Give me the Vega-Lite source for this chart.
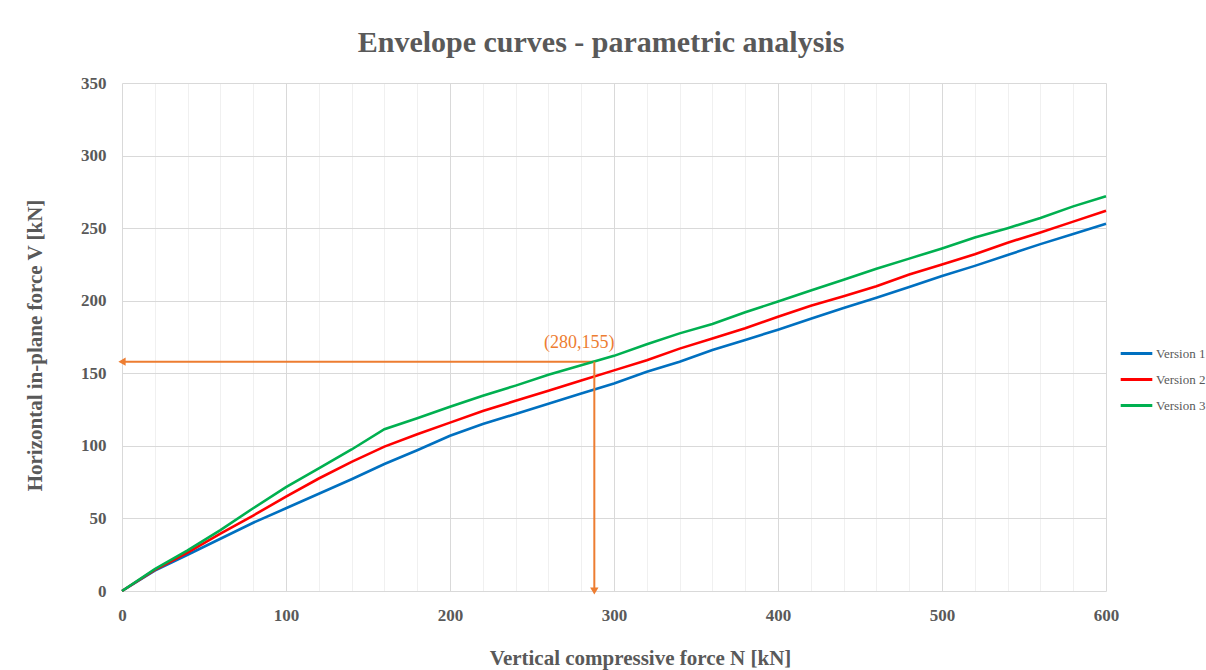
{
  "$schema": "https://vega.github.io/schema/vega-lite/v6.json",
  "width": 984,
  "height": 508,
  "autosize": {"type": "none"},
  "padding": {"left": 122, "top": 83, "right": 100, "bottom": 79},
  "background": "white",
  "title": {
    "text": "Envelope curves - parametric analysis",
    "font": "Liberation Serif",
    "fontSize": 30,
    "fontWeight": "bold",
    "color": "#595959",
    "anchor": "middle",
    "offset": 16,
    "dx": -13
  },
  "config": {"view": {"stroke": null}},
  "datasets": {
    "curves": [
      {"N": 0, "V": 0, "series": "Version 1"},
      {"N": 20, "V": 14, "series": "Version 1"},
      {"N": 40, "V": 25, "series": "Version 1"},
      {"N": 60, "V": 36, "series": "Version 1"},
      {"N": 80, "V": 47, "series": "Version 1"},
      {"N": 100, "V": 57, "series": "Version 1"},
      {"N": 120, "V": 67, "series": "Version 1"},
      {"N": 140, "V": 77, "series": "Version 1"},
      {"N": 160, "V": 87.5, "series": "Version 1"},
      {"N": 180, "V": 97, "series": "Version 1"},
      {"N": 200, "V": 107, "series": "Version 1"},
      {"N": 220, "V": 115, "series": "Version 1"},
      {"N": 240, "V": 122, "series": "Version 1"},
      {"N": 260, "V": 129, "series": "Version 1"},
      {"N": 280, "V": 136, "series": "Version 1"},
      {"N": 300, "V": 143, "series": "Version 1"},
      {"N": 320, "V": 151, "series": "Version 1"},
      {"N": 340, "V": 158, "series": "Version 1"},
      {"N": 360, "V": 166, "series": "Version 1"},
      {"N": 380, "V": 173, "series": "Version 1"},
      {"N": 400, "V": 180, "series": "Version 1"},
      {"N": 420, "V": 187.5, "series": "Version 1"},
      {"N": 440, "V": 195, "series": "Version 1"},
      {"N": 460, "V": 202, "series": "Version 1"},
      {"N": 480, "V": 209.5, "series": "Version 1"},
      {"N": 500, "V": 217, "series": "Version 1"},
      {"N": 520, "V": 224, "series": "Version 1"},
      {"N": 540, "V": 231.5, "series": "Version 1"},
      {"N": 560, "V": 239, "series": "Version 1"},
      {"N": 580, "V": 246, "series": "Version 1"},
      {"N": 600, "V": 253, "series": "Version 1"},
      {"N": 0, "V": 0, "series": "Version 2"},
      {"N": 20, "V": 14.5, "series": "Version 2"},
      {"N": 40, "V": 26.5, "series": "Version 2"},
      {"N": 60, "V": 39.5, "series": "Version 2"},
      {"N": 80, "V": 52, "series": "Version 2"},
      {"N": 100, "V": 65, "series": "Version 2"},
      {"N": 120, "V": 77.5, "series": "Version 2"},
      {"N": 140, "V": 89, "series": "Version 2"},
      {"N": 160, "V": 99.5, "series": "Version 2"},
      {"N": 180, "V": 108, "series": "Version 2"},
      {"N": 200, "V": 116, "series": "Version 2"},
      {"N": 220, "V": 124, "series": "Version 2"},
      {"N": 240, "V": 131, "series": "Version 2"},
      {"N": 260, "V": 138, "series": "Version 2"},
      {"N": 280, "V": 145, "series": "Version 2"},
      {"N": 300, "V": 152, "series": "Version 2"},
      {"N": 320, "V": 159, "series": "Version 2"},
      {"N": 340, "V": 167, "series": "Version 2"},
      {"N": 360, "V": 174, "series": "Version 2"},
      {"N": 380, "V": 181, "series": "Version 2"},
      {"N": 400, "V": 189, "series": "Version 2"},
      {"N": 420, "V": 196.5, "series": "Version 2"},
      {"N": 440, "V": 203, "series": "Version 2"},
      {"N": 460, "V": 210, "series": "Version 2"},
      {"N": 480, "V": 218, "series": "Version 2"},
      {"N": 500, "V": 225, "series": "Version 2"},
      {"N": 520, "V": 232, "series": "Version 2"},
      {"N": 540, "V": 240, "series": "Version 2"},
      {"N": 560, "V": 247, "series": "Version 2"},
      {"N": 580, "V": 254.5, "series": "Version 2"},
      {"N": 600, "V": 262, "series": "Version 2"},
      {"N": 0, "V": 0, "series": "Version 3"},
      {"N": 20, "V": 15, "series": "Version 3"},
      {"N": 40, "V": 28, "series": "Version 3"},
      {"N": 60, "V": 42, "series": "Version 3"},
      {"N": 80, "V": 57, "series": "Version 3"},
      {"N": 100, "V": 71.5, "series": "Version 3"},
      {"N": 120, "V": 84.5, "series": "Version 3"},
      {"N": 140, "V": 97.5, "series": "Version 3"},
      {"N": 160, "V": 111.5, "series": "Version 3"},
      {"N": 180, "V": 119, "series": "Version 3"},
      {"N": 200, "V": 127, "series": "Version 3"},
      {"N": 220, "V": 134.5, "series": "Version 3"},
      {"N": 240, "V": 141.5, "series": "Version 3"},
      {"N": 260, "V": 149, "series": "Version 3"},
      {"N": 280, "V": 155.5, "series": "Version 3"},
      {"N": 300, "V": 162, "series": "Version 3"},
      {"N": 320, "V": 170, "series": "Version 3"},
      {"N": 340, "V": 177.5, "series": "Version 3"},
      {"N": 360, "V": 184, "series": "Version 3"},
      {"N": 380, "V": 192, "series": "Version 3"},
      {"N": 400, "V": 199.5, "series": "Version 3"},
      {"N": 420, "V": 207, "series": "Version 3"},
      {"N": 440, "V": 214.5, "series": "Version 3"},
      {"N": 460, "V": 222, "series": "Version 3"},
      {"N": 480, "V": 229, "series": "Version 3"},
      {"N": 500, "V": 236, "series": "Version 3"},
      {"N": 520, "V": 243.5, "series": "Version 3"},
      {"N": 540, "V": 250, "series": "Version 3"},
      {"N": 560, "V": 257, "series": "Version 3"},
      {"N": 580, "V": 265, "series": "Version 3"},
      {"N": 600, "V": 272, "series": "Version 3"}
    ],
    "annot": [
      {"N0": 0, "N": 288, "V0": 0, "V": 158, "label": "(280,155)"}
    ]
  },
  "layer": [
    {
      "data": {"name": "annot"},
      "mark": {"type": "rule", "color": "#ED7D31", "strokeWidth": 2},
      "encoding": {
        "x": {
          "field": "N0",
          "type": "quantitative",
          "scale": {"domain": [0, 600], "nice": false},
          "axis": {
            "orient": "top",
            "values": [20, 40, 60, 80, 120, 140, 160, 180, 220, 240, 260, 280, 320, 340, 360, 380, 420, 440, 460, 480, 520, 540, 560, 580],
            "grid": true,
            "gridColor": "#f0f0f0",
            "gridWidth": 1,
            "labels": false,
            "ticks": false,
            "domain": false,
            "title": null
          }
        },
        "x2": {"field": "N"},
        "y": {"field": "V", "type": "quantitative", "scale": {"domain": [0, 350], "nice": false}}
      }
    },
    {
      "data": {"name": "curves"},
      "mark": {"type": "line", "strokeWidth": 2.6, "interpolate": "linear"},
      "encoding": {
        "x": {
          "field": "N",
          "type": "quantitative",
          "scale": {"domain": [0, 600], "nice": false},
          "axis": {
            "values": [0, 100, 200, 300, 400, 500, 600],
            "grid": true,
            "gridColor": "#d9d9d9",
            "ticks": false,
            "domain": false,
            "labelFlush": false,
            "labelFont": "Liberation Serif",
            "labelFontSize": 17,
            "labelFontWeight": "bold",
            "labelColor": "#595959",
            "labelPadding": 16,
            "title": "Vertical compressive force N [kN]",
            "titleFont": "Liberation Serif",
            "titleFontSize": 21,
            "titleFontWeight": "bold",
            "titleColor": "#595959",
            "titlePadding": 24,
            "titleX": 518
          }
        },
        "y": {
          "field": "V",
          "type": "quantitative",
          "scale": {"domain": [0, 350], "nice": false},
          "axis": {
            "values": [0, 50, 100, 150, 200, 250, 300, 350],
            "grid": true,
            "gridColor": "#d9d9d9",
            "ticks": false,
            "domain": false,
            "labelFlush": false,
            "labelFont": "Liberation Serif",
            "labelFontSize": 17,
            "labelFontWeight": "bold",
            "labelColor": "#595959",
            "labelPadding": 16,
            "title": "Horizontal in-plane force V [kN]",
            "titleFont": "Liberation Serif",
            "titleFontSize": 21,
            "titleFontWeight": "bold",
            "titleColor": "#595959",
            "titlePadding": 35,
            "titleY": 262
          }
        },
        "color": {
          "field": "series",
          "type": "nominal",
          "scale": {"domain": ["Version 1", "Version 2", "Version 3"], "range": ["#0070C0", "#FF0000", "#00B050"]},
          "legend": {
            "title": null,
            "orient": "none",
            "legendX": 997,
            "legendY": 253,
            "symbolType": "stroke",
            "symbolSize": 1000,
            "symbolStrokeWidth": 3,
            "labelFont": "Liberation Serif",
            "labelFontSize": 13,
            "labelColor": "#595959",
            "labelOffset": 2,
            "rowPadding": 1
          }
        }
      }
    },
    {
      "data": {"name": "annot"},
      "mark": {"type": "rule", "color": "#ED7D31", "strokeWidth": 2},
      "encoding": {
        "x": {"field": "N", "type": "quantitative", "axis": null},
        "y": {"field": "V0", "type": "quantitative"},
        "y2": {"field": "V"}
      }
    },
    {
      "data": {"name": "annot"},
      "mark": {"type": "point", "shape": "triangle-left", "filled": true, "color": "#ED7D31", "size": 70, "opacity": 1},
      "encoding": {
        "x": {"field": "N0", "type": "quantitative", "axis": null},
        "y": {"field": "V", "type": "quantitative"}
      }
    },
    {
      "data": {"name": "annot"},
      "mark": {"type": "point", "shape": "triangle-down", "filled": true, "color": "#ED7D31", "size": 70, "opacity": 1},
      "encoding": {
        "x": {"field": "N", "type": "quantitative", "axis": null},
        "y": {"field": "V0", "type": "quantitative"}
      }
    },
    {
      "data": {"name": "annot"},
      "mark": {"type": "text", "color": "#ED7D31", "font": "Liberation Serif", "fontSize": 18, "dx": -15, "dy": -19, "baseline": "middle", "align": "center"},
      "encoding": {
        "x": {"field": "N", "type": "quantitative", "axis": null},
        "y": {"field": "V", "type": "quantitative"},
        "text": {"field": "label"}
      }
    }
  ],
  "resolve": {"axis": {"x": "independent"}}
}
